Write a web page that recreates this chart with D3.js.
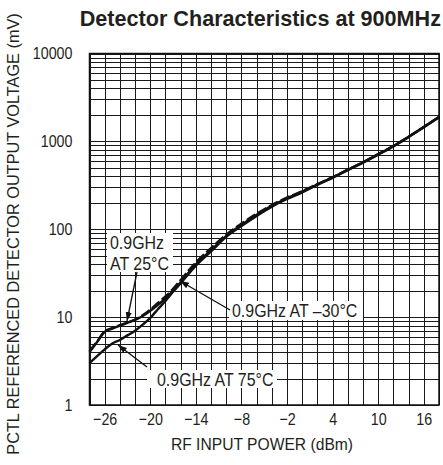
<!DOCTYPE html>
<html>
<head>
<meta charset="utf-8">
<script src="https://cdn.jsdelivr.net/npm/d3@7"></script>
<style>
  body { margin: 0; background: #fff; }
  svg text { fill: #231f20; font-family: 'Liberation Sans', Arial, sans-serif; }
</style>
</head>
<body>
<div id="chart"></div>
<script>
// RF input power (dBm) and detector output (mV) for each temperature
var powerDbm = [-28, -27, -26, -25, -24, -23, -22, -21, -20, -19, -18, -17, -16, -14, -12, -10, -8, -6, -4, -2, 0, 2, 4, 6, 8, 10, 12, 14, 16, 18];
var mv25 = [4.0, 5.2, 6.8, 7.4, 8.0, 8.6, 9.3, 10.3, 11.8, 13.8, 16.3, 20, 25, 40, 58, 84, 112, 146, 185, 225, 268, 325, 390, 475, 578, 714, 887, 1128, 1460, 1890];
var mv75 = [3.0, 3.6, 4.3, 5.0, 5.5, 6.2, 7.0, 8.2, 9.8, 12.3, 15.3, 19.4, 24.3, 38.5, 56, 82, 109, 142, 181, 221, 263, 320, 385, 470, 572, 706, 878, 1118, 1450, 1880];
var mvM30 = [4.1, 5.3, 6.9, 7.5, 8.1, 8.7, 9.4, 10.5, 12.2, 14.5, 17.2, 21, 26.5, 42, 61, 87, 116, 150, 189, 229, 271, 327, 392, 477, 580, 716, 889, 1130, 1462, 1895];

var xTicks = [-26, -20, -14, -8, -2, 4, 10, 16];
var yTicks = [1, 10, 100, 1000, 10000];

var W = 443, H = 465;
var pLeft = 89.5, pRight = 439, pTop = 53.5, pBottom = 405;

var svg = d3.select("#chart").append("svg")
    .attr("width", W)
    .attr("height", H);

// narrow the glyphs a bit to get the condensed look of the original
function squeeze(sel, k) {
  sel.each(function () {
    var w = this.getComputedTextLength();
    d3.select(this).attr("textLength", w * k).attr("lengthAdjust", "spacingAndGlyphs");
  });
}

var x = d3.scaleLinear().domain([-28, 18]).range([pLeft, pRight]);
var y = d3.scaleLog().domain([1, 10000]).range([pBottom, pTop]);

// grid
var grid = svg.append("g").attr("stroke", "#1a1a1a").attr("stroke-width", 1);
grid.selectAll("line.v")
    .data(d3.range(-28, 18.1, 2))
    .enter().append("line")
    .attr("x1", function (d) { return Math.round(x(d)) + 0.5; })
    .attr("x2", function (d) { return Math.round(x(d)) + 0.5; })
    .attr("y1", pTop).attr("y2", pBottom);
grid.selectAll("line.h")
    .data(y.ticks())
    .enter().append("line")
    .attr("x1", pLeft).attr("x2", pRight)
    .attr("y1", function (d) { return Math.round(y(d)) + 0.5; })
    .attr("y2", function (d) { return Math.round(y(d)) + 0.5; });

svg.append("rect")
    .attr("x", pLeft).attr("y", pTop)
    .attr("width", pRight - pLeft).attr("height", pBottom - pTop)
    .attr("fill", "none").attr("stroke", "#111").attr("stroke-width", 1.5);

// label boxes knock out the grid
var boxes = [
  { x: 107, y: 233, w: 66, h: 39 },
  { x: 229, y: 301, w: 134, h: 19 },
  { x: 147, y: 370, w: 130, h: 18 }
];
svg.selectAll("rect.box")
    .data(boxes)
    .enter().append("rect")
    .attr("x", function (d) { return d.x; })
    .attr("y", function (d) { return d.y; })
    .attr("width", function (d) { return d.w; })
    .attr("height", function (d) { return d.h; })
    .attr("fill", "#fff");

// curves
var line = d3.line()
    .x(function (d) { return x(d[0]); })
    .y(function (d) { return y(d[1]); })
    .curve(d3.curveMonotoneX);

[mv75, mv25, mvM30].forEach(function (s, i) {
  svg.append("path")
      .datum(d3.zip(powerDbm, s))
      .attr("d", line)
      .attr("fill", "none")
      .attr("stroke", "#111")
      .attr("stroke-width", 2.4)
      .attr("stroke-dasharray", i == 2 ? "10,3" : null);
});

// axes
var xAxis = svg.append("g")
    .attr("transform", "translate(0," + pBottom + ")")
    .call(d3.axisBottom(x).tickValues(xTicks).tickSize(0).tickPadding(8));
xAxis.select(".domain").remove();
xAxis.selectAll("text").attr("font-size", 17).attr("fill", null).call(squeeze, 0.84);

var yAxis = svg.append("g")
    .attr("transform", "translate(" + pLeft + ",0)")
    .call(d3.axisLeft(y).tickValues(yTicks).tickFormat(d3.format("d")).tickSize(0).tickPadding(17));
yAxis.select(".domain").remove();
yAxis.selectAll("text").attr("font-size", 17).attr("fill", null).call(squeeze, 0.84);

svg.append("text")
    .attr("x", 262).attr("y", 450)
    .attr("text-anchor", "middle")
    .attr("font-size", 17)
    .text("RF INPUT POWER (dBm)")
    .call(squeeze, 0.92);

svg.append("text")
    .attr("transform", "translate(19,234) rotate(-90)")
    .attr("text-anchor", "middle")
    .attr("font-size", 16.3)
    .text("PCTL REFERENCED DETECTOR OUTPUT VOLTAGE (mV)");

svg.append("text")
    .attr("x", 441).attr("y", 26)
    .attr("text-anchor", "end")
    .attr("font-size", 21.6)
    .attr("font-weight", "bold")
    .text("Detector Characteristics at 900MHz");

// annotations
var labels = [
  { t: "0.9GHz", x: 110, y: 249 },
  { t: "AT 25°C", x: 110, y: 270 },
  { t: "0.9GHz AT \u201330°C", x: 232, y: 317 },
  { t: "0.9GHz AT 75°C", x: 157, y: 386 }
];
svg.selectAll("text.lab")
    .data(labels)
    .enter().append("text")
    .attr("x", function (d) { return d.x; })
    .attr("y", function (d) { return d.y; })
    .attr("font-size", 17.5)
    .text(function (d) { return d.t; })
    .call(squeeze, 0.91);

svg.append("defs").append("marker")
    .attr("id", "ah")
    .attr("viewBox", "0 0 10 10")
    .attr("refX", 10).attr("refY", 5)
    .attr("markerWidth", 9).attr("markerHeight", 9)
    .attr("markerUnits", "userSpaceOnUse")
    .attr("orient", "auto")
    .append("path")
    .attr("d", "M0,1.5L10,5L0,8.5Z")
    .attr("fill", "#111");

var arrows = [
  { x1: 137, y1: 272, x2: 127, y2: 321 },
  { x1: 230, y1: 310, x2: 180, y2: 281 },
  { x1: 147, y1: 367, x2: 118, y2: 345 }
];
svg.selectAll("line.arrow")
    .data(arrows)
    .enter().append("line")
    .attr("x1", function (d) { return d.x1; })
    .attr("y1", function (d) { return d.y1; })
    .attr("x2", function (d) { return d.x2; })
    .attr("y2", function (d) { return d.y2; })
    .attr("stroke", "#111")
    .attr("stroke-width", 1.3)
    .attr("marker-end", "url(#ah)");
</script>
</body>
</html>
